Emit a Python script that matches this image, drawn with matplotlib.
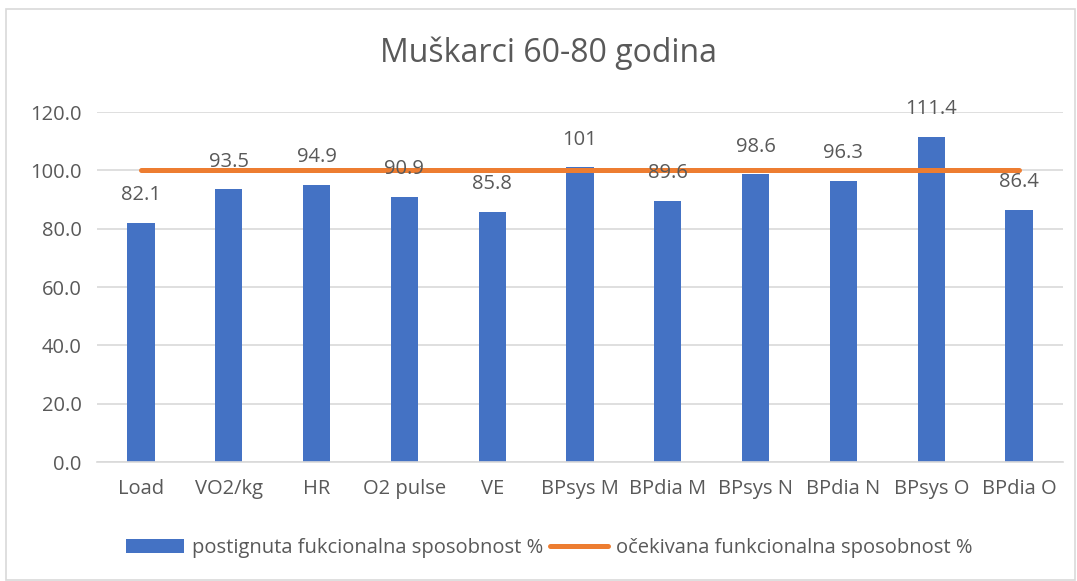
import matplotlib.pyplot as plt
from matplotlib.patches import Rectangle
import numpy as np

plt.rcParams['font.family'] = ['Open Sans', 'DejaVu Sans']

# podaci
categories = ['Load', 'VO2/kg', 'HR', 'O2 pulse', 'VE', 'BPsys M', 'BPdia M',
              'BPsys N', 'BPdia N', 'BPsys O', 'BPdia O']
achieved = [82.1, 93.5, 94.9, 90.9, 85.8, 101, 89.6, 98.6, 96.3, 111.4, 86.4]
expected = [100] * 11
labels = ['82.1', '93.5', '94.9', '90.9', '85.8', '101', '89.6', '98.6', '96.3', '111.4', '86.4']

txt = '#595959'
blue = '#4472C4'
orange = '#ED7D31'

fig = plt.figure(figsize=(10.77, 5.81), dpi=100)
ax = fig.add_axes([0.0901, 0.2048, 0.8969, 0.6024])

x = np.arange(len(categories))
ax.bar(x, achieved, width=0.31, color=blue, zorder=2,
       label='postignuta fukcionalna sposobnost %')
ax.plot(x, expected, color=orange, linewidth=3.6, solid_capstyle='round', zorder=3,
        label='očekivana funkcionalna sposobnost %')

# oznake iznad stupaca
for xi, v, lab in zip(x, achieved, labels):
    ax.annotate(lab, (xi, v), xytext=(0, 20), textcoords='offset points',
                ha='center', va='center', fontsize=14.5, color=txt, zorder=4)

ax.set_xlim(-0.5, len(categories) - 0.5)
ax.set_ylim(0, 120)
ax.set_yticks(np.arange(0, 121, 20))
ax.set_yticklabels(['%.1f' % t for t in np.arange(0, 121, 20)])
ax.set_xticks(x)
ax.set_xticklabels(categories)
ax.tick_params(axis='both', length=0, labelsize=14.5, labelcolor=txt)
ax.tick_params(axis='x', pad=12)
ax.tick_params(axis='y', pad=11)
ax.grid(axis='y', color='#D9D9D9', linewidth=1.2, zorder=0)
for s in ['top', 'right', 'left']:
    ax.spines[s].set_visible(False)
ax.spines['bottom'].set_color('#D9D9D9')
ax.spines['bottom'].set_linewidth(1.2)

fig.text(0.509, 1 - 53 / 581, 'Muškarci 60-80 godina', ha='center', va='center',
         fontsize=23, color=txt)

handles, names = ax.get_legend_handles_labels()
order = [1, 0]
fig.legend([handles[i] for i in order], [names[i] for i in order],
           loc='center', bbox_to_anchor=(0.51, 1 - 548 / 581), ncol=2, frameon=False,
           fontsize=14.5, labelcolor=txt, handlelength=2.9, handletextpad=0.4,
           columnspacing=0.3)

# okvir grafikona
fig.patches.append(Rectangle((6 / 1077, 0.002), 1 - 8 / 1077, 1 - 9 / 581 - 0.002,
                             transform=fig.transFigure, fill=False,
                             edgecolor='#D9D9D9', linewidth=1.2))

fig.savefig('out.png', dpi=100, facecolor='white')
